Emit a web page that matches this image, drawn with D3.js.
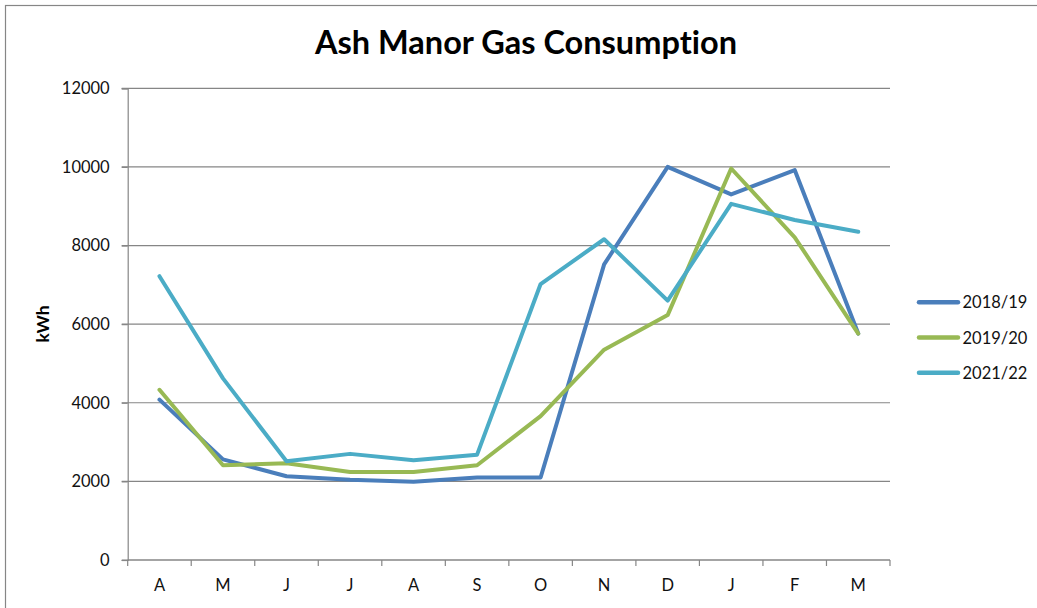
<!DOCTYPE html>
<html>
<head>
<meta charset="utf-8">
<script src="https://cdn.jsdelivr.net/npm/d3@7"></script>
<style>
  body { margin: 0; background: #fff; }
  svg { display: block; font-family: Lato, "Open Sans", sans-serif; font-variant-ligatures: none; }
</style>
</head>
<body>
<svg width="1037" height="608"></svg>
<script>
const months = ["A", "M", "J", "J", "A", "S", "O", "N", "D", "J", "F", "M"];
const seriesNames = ["2018/19", "2019/20", "2021/22"];
const s2018 = [4080, 2560, 2130, 2040, 1990, 2100, 2100, 7520, 10000, 9300, 9920, 5760];
const s2019 = [4330, 2410, 2460, 2240, 2240, 2410, 3660, 5350, 6230, 9960, 8210, 5760];
const s2021 = [7220, 4620, 2510, 2700, 2540, 2680, 7020, 8160, 6600, 9060, 8650, 8350];
const yTicks = [0, 2000, 4000, 6000, 8000, 10000, 12000];
const colors = ["#4a7ebb", "#98b954", "#4bacc6"];

const svg = d3.select("svg"),
  width = +svg.attr("width"),
  height = +svg.attr("height");

const plotL = 127.7, plotR = 890, plotT = 88.3, plotB = 560;
const gridColor = "#868686";

// outer chart frame (runs off the bottom/right of the picture)
svg.append("rect")
  .attr("x", 5.5).attr("y", 5.5)
  .attr("width", width + 10).attr("height", height + 10)
  .attr("fill", "none").attr("stroke", gridColor).attr("stroke-width", 1.2);

const x = d3.scaleBand().domain(d3.range(months.length)).range([plotL, plotR]).paddingInner(0).paddingOuter(0);
const y = d3.scaleLinear().domain([0, 12000]).range([plotB, plotT]);
const cx = i => x(i) + x.bandwidth() / 2;

// gridlines
svg.append("g")
  .selectAll("line")
  .data(yTicks)
  .enter()
  .append("line")
  .attr("x1", plotL - 6).attr("x2", plotR)
  .attr("y1", d => y(d)).attr("y2", d => y(d))
  .attr("stroke", gridColor).attr("stroke-width", 1.2);

// y axis
const yAxis = svg.append("g")
  .attr("transform", "translate(" + plotL + ",0)")
  .call(d3.axisLeft(y).tickValues(yTicks).tickSize(6).tickPadding(12).tickFormat(d3.format("d")));
yAxis.select(".domain").attr("stroke", gridColor).attr("stroke-width", 1.2);
yAxis.selectAll(".tick line").attr("stroke", gridColor).attr("stroke-width", 1.2);
yAxis.selectAll("text").attr("font-size", 16.5).attr("fill", "#111").attr("font-family", "Lato");

// x axis: ticks at the category boundaries
const xg = svg.append("g").attr("transform", "translate(0," + plotB + ")");
xg.append("line").attr("x1", plotL).attr("x2", plotR).attr("stroke", gridColor).attr("stroke-width", 1.2);
xg.selectAll(".bt")
  .data(d3.range(months.length + 1))
  .enter()
  .append("line")
  .attr("class", "bt")
  .attr("x1", d => plotL + d * x.bandwidth())
  .attr("x2", d => plotL + d * x.bandwidth())
  .attr("y1", 0).attr("y2", 6)
  .attr("stroke", gridColor).attr("stroke-width", 1.2);
xg.selectAll("text")
  .data(months)
  .enter()
  .append("text")
  .attr("x", (d, i) => cx(i))
  .attr("y", 31)
  .attr("text-anchor", "middle")
  .attr("font-size", 16.5)
  .attr("fill", "#111")
  .text(d => d);

// series lines
const allSeries = [s2018, s2019, s2021];
const line = d3.line().x((d, i) => cx(i)).y(d => y(d));

svg.append("g")
  .selectAll("path")
  .data(allSeries)
  .enter()
  .append("path")
  .attr("d", line)
  .attr("fill", "none")
  .attr("stroke", (d, i) => colors[i])
  .attr("stroke-width", 4)
  .attr("stroke-linejoin", "round")
  .attr("stroke-linecap", "round");

// title
svg.append("text")
  .attr("x", 526).attr("y", 54)
  .attr("text-anchor", "middle")
  .attr("font-size", 32.5)
  .attr("font-weight", "bold")
  .attr("fill", "#000")
  .text("Ash Manor Gas Consumption");

// y axis title
svg.append("text")
  .attr("transform", "translate(49,324) rotate(-90)")
  .attr("text-anchor", "middle")
  .attr("font-size", 17.5)
  .attr("font-weight", "bold")
  .attr("fill", "#000")
  .text("kWh");

// legend
const legend = svg.append("g")
  .selectAll("g")
  .data(seriesNames)
  .enter()
  .append("g")
  .attr("transform", (d, i) => "translate(919," + (302.3 + i * 35.2) + ")");
legend.append("line")
  .attr("x1", 0).attr("x2", 39)
  .attr("stroke", (d, i) => colors[i])
  .attr("stroke-width", 4.5)
  .attr("stroke-linecap", "round");
legend.append("text")
  .attr("x", 43.5).attr("y", 6)
  .attr("font-size", 16.5)
  .attr("fill", "#111")
  .text(d => d);
</script>
</body>
</html>
